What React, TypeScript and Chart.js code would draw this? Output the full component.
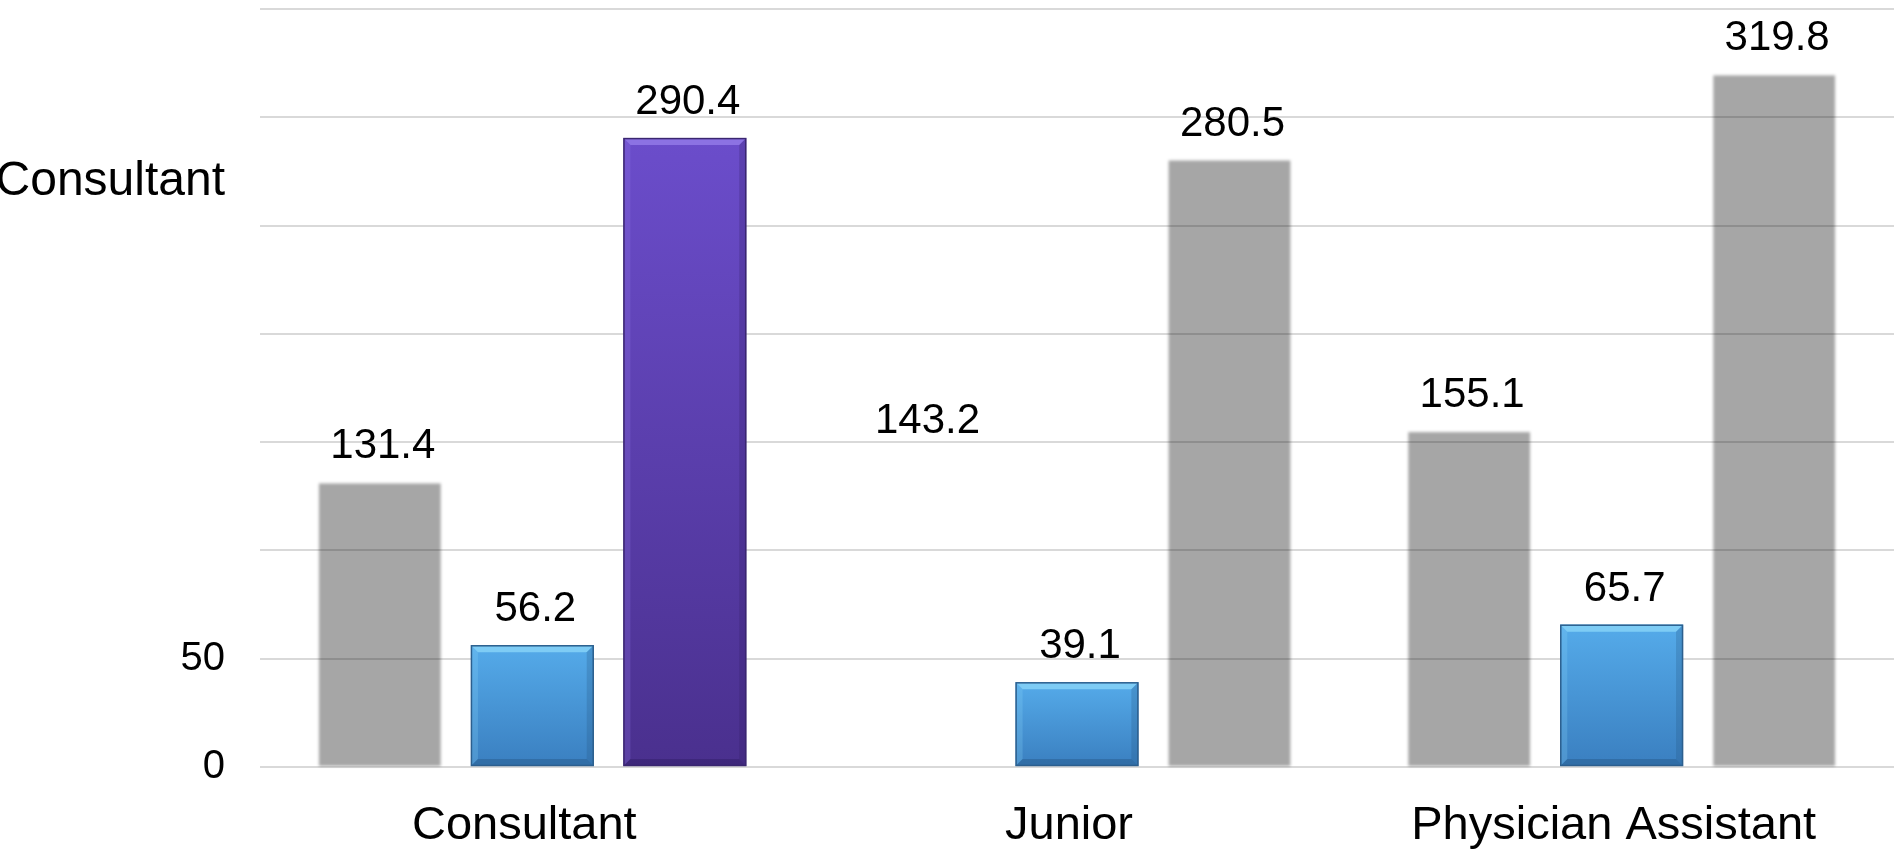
import React, { useEffect, useRef } from 'react';
import { Chart, registerables } from 'chart.js';

Chart.register(...registerables);

// ---- data ----
const categories = ['Consultant', 'Junior', 'Physician Assistant'];
const series1 = [131.4, 143.2, 155.1];
const series2 = [56.2, 39.1, 65.7];
const series3 = [290.4, 280.5, 319.8];
const yTickValues = [0, 50, 100, 150, 200, 250, 270, 300, 350];
const yTickLabels = ['0', '50', '', '', '', '', 'Consultant', '', ''];

// ---- styles ----
const FONT = "'Liberation Sans', Arial, sans-serif";
const barKinds: string[][] = [
  ['gray', 'hidden', 'gray'],
  ['blue', 'blue', 'blue'],
  ['purple', 'gray', 'gray'],
];
const bevelPalettes: Record<string, any> = {
  blue: { light: '#86D2F7', top: '#55ABEA', bottom: '#3A7FC0', dark: '#24527F', border: '#2C5F8E' },
  purple: { light: '#9279E8', top: '#6B4DCB', bottom: '#4A308E', dark: '#2E1C5E', border: '#3A2670' },
};

function drawBar(ctx: CanvasRenderingContext2D, el: any, kind: string) {
  if (kind === 'hidden') return;
  const { x, y, base, width } = el.getProps(['x', 'y', 'base', 'width'], true);
  const l = x - width / 2;
  const r = x + width / 2;
  const t = Math.min(y, base);
  const b = Math.max(y, base);
  ctx.save();
  if (kind === 'gray') {
    ctx.filter = 'blur(1.5px)';
    ctx.fillStyle = 'rgba(0,0,0,0.35)';
    ctx.fillRect(l + 0.5, t + 1, width - 1, b - t - 1);
    ctx.restore();
    return;
  }
  const p = bevelPalettes[kind];
  const g = ctx.createLinearGradient(0, t, 0, b);
  g.addColorStop(0, p.top);
  g.addColorStop(1, p.bottom);
  ctx.fillStyle = g;
  ctx.fillRect(l, t, width, b - t);
  const bv = Math.min(7, (b - t) / 4);
  // top bevel
  ctx.fillStyle = p.light;
  ctx.globalAlpha = 0.85;
  ctx.beginPath();
  ctx.moveTo(l, t); ctx.lineTo(r, t); ctx.lineTo(r - bv, t + bv); ctx.lineTo(l + bv, t + bv);
  ctx.closePath(); ctx.fill();
  // left bevel
  ctx.globalAlpha = 0.25;
  ctx.beginPath();
  ctx.moveTo(l, t); ctx.lineTo(l + bv, t + bv); ctx.lineTo(l + bv, b - bv); ctx.lineTo(l, b);
  ctx.closePath(); ctx.fill();
  // right bevel
  ctx.fillStyle = p.dark;
  ctx.globalAlpha = 0.25;
  ctx.beginPath();
  ctx.moveTo(r, t); ctx.lineTo(r - bv, t + bv); ctx.lineTo(r - bv, b - bv); ctx.lineTo(r, b);
  ctx.closePath(); ctx.fill();
  // bottom bevel
  ctx.globalAlpha = 0.4;
  ctx.beginPath();
  ctx.moveTo(l, b); ctx.lineTo(l + bv, b - bv); ctx.lineTo(r - bv, b - bv); ctx.lineTo(r, b);
  ctx.closePath(); ctx.fill();
  ctx.globalAlpha = 1;
  ctx.strokeStyle = p.border;
  ctx.lineWidth = 1.5;
  ctx.strokeRect(l + 0.5, t + 0.5, width - 1, b - t - 1);
  ctx.restore();
}

const customBars = {
  id: 'customBars',
  beforeDatasetDraw(chart: any, args: any) {
    const ctx = chart.ctx;
    const meta = args.meta;
    const kinds = barKinds[args.index] || [];
    meta.data.forEach((el: any, i: number) => drawBar(ctx, el, kinds[i] || 'gray'));
    return false;
  },
};

const valueLabels = {
  id: 'valueLabels',
  afterDatasetsDraw(chart: any) {
    const ctx = chart.ctx;
    ctx.save();
    ctx.font = `42px ${FONT}`;
    ctx.fillStyle = '#000';
    ctx.textAlign = 'center';
    ctx.textBaseline = 'alphabetic';
    chart.data.datasets.forEach((ds: any, di: number) => {
      const meta = chart.getDatasetMeta(di);
      meta.data.forEach((el: any, i: number) => {
        const v = ds.data[i];
        ctx.fillText(Number(v).toFixed(1), el.x + 3, el.y - 24);
      });
    });
    ctx.restore();
  },
};

export default function App() {
  const canvasRef = useRef<HTMLCanvasElement | null>(null);

  useEffect(() => {
    if (!canvasRef.current) return;
    const chart = new Chart(canvasRef.current, {
      type: 'bar',
      data: {
        labels: categories,
        datasets: [
          { label: 'Series 1', data: series1, backgroundColor: 'rgba(0,0,0,0.35)' },
          { label: 'Series 2', data: series2, backgroundColor: '#4FA3E3' },
          { label: 'Series 3', data: series3, backgroundColor: '#5B3EB0' },
        ],
      },
      options: {
        animation: false,
        responsive: true,
        maintainAspectRatio: false,
        devicePixelRatio: 1,
        datasets: { bar: { categoryPercentage: 0.84, barPercentage: 0.805 } } as any,
        layout: { padding: { top: 9, left: 0, right: 0, bottom: 0 } },
        plugins: { legend: { display: false }, tooltip: { enabled: false } },
        scales: {
          x: {
            grid: { display: false, drawTicks: false },
            border: { display: false },
            ticks: {
              font: { family: FONT, size: 47 },
              color: '#000',
              padding: 31,
              labelOffset: -8,
              maxRotation: 0,
              autoSkip: false,
            },
            afterFit(scale: any) {
              scale.height = 83;
              scale.paddingLeft = 0;
              scale.paddingRight = 0;
            },
          },
          y: {
            min: 0,
            max: 350,
            grid: {
              color: (c: any) => (c.tick && c.tick.value === 270 ? 'rgba(0,0,0,0)' : 'rgba(0,0,0,0.15)'),
              lineWidth: 2,
              drawTicks: false,
            },
            border: { display: false },
            ticks: {
              autoSkip: false,
              color: '#000',
              padding: 35,
              font: (c: any) => ({ family: FONT, size: c.tick && c.tick.value === 270 ? 48 : 40 }),
              callback: (v: any) => {
                const i = yTickValues.indexOf(Number(v));
                return i >= 0 ? yTickLabels[i] : '';
              },
            },
            afterBuildTicks(scale: any) {
              scale.ticks = yTickValues.map((v) => ({ value: v }));
            },
            afterFit(scale: any) {
              scale.width = 260;
              scale.paddingTop = 0;
              scale.paddingBottom = 0;
            },
          },
        },
      },
      plugins: [customBars, valueLabels],
    });
    return () => chart.destroy();
  }, []);

  return (
    <div style={{ position: 'fixed', left: 0, top: 0, width: 1894, height: 850, background: '#fff' }}>
      <canvas ref={canvasRef} />
    </div>
  );
}
